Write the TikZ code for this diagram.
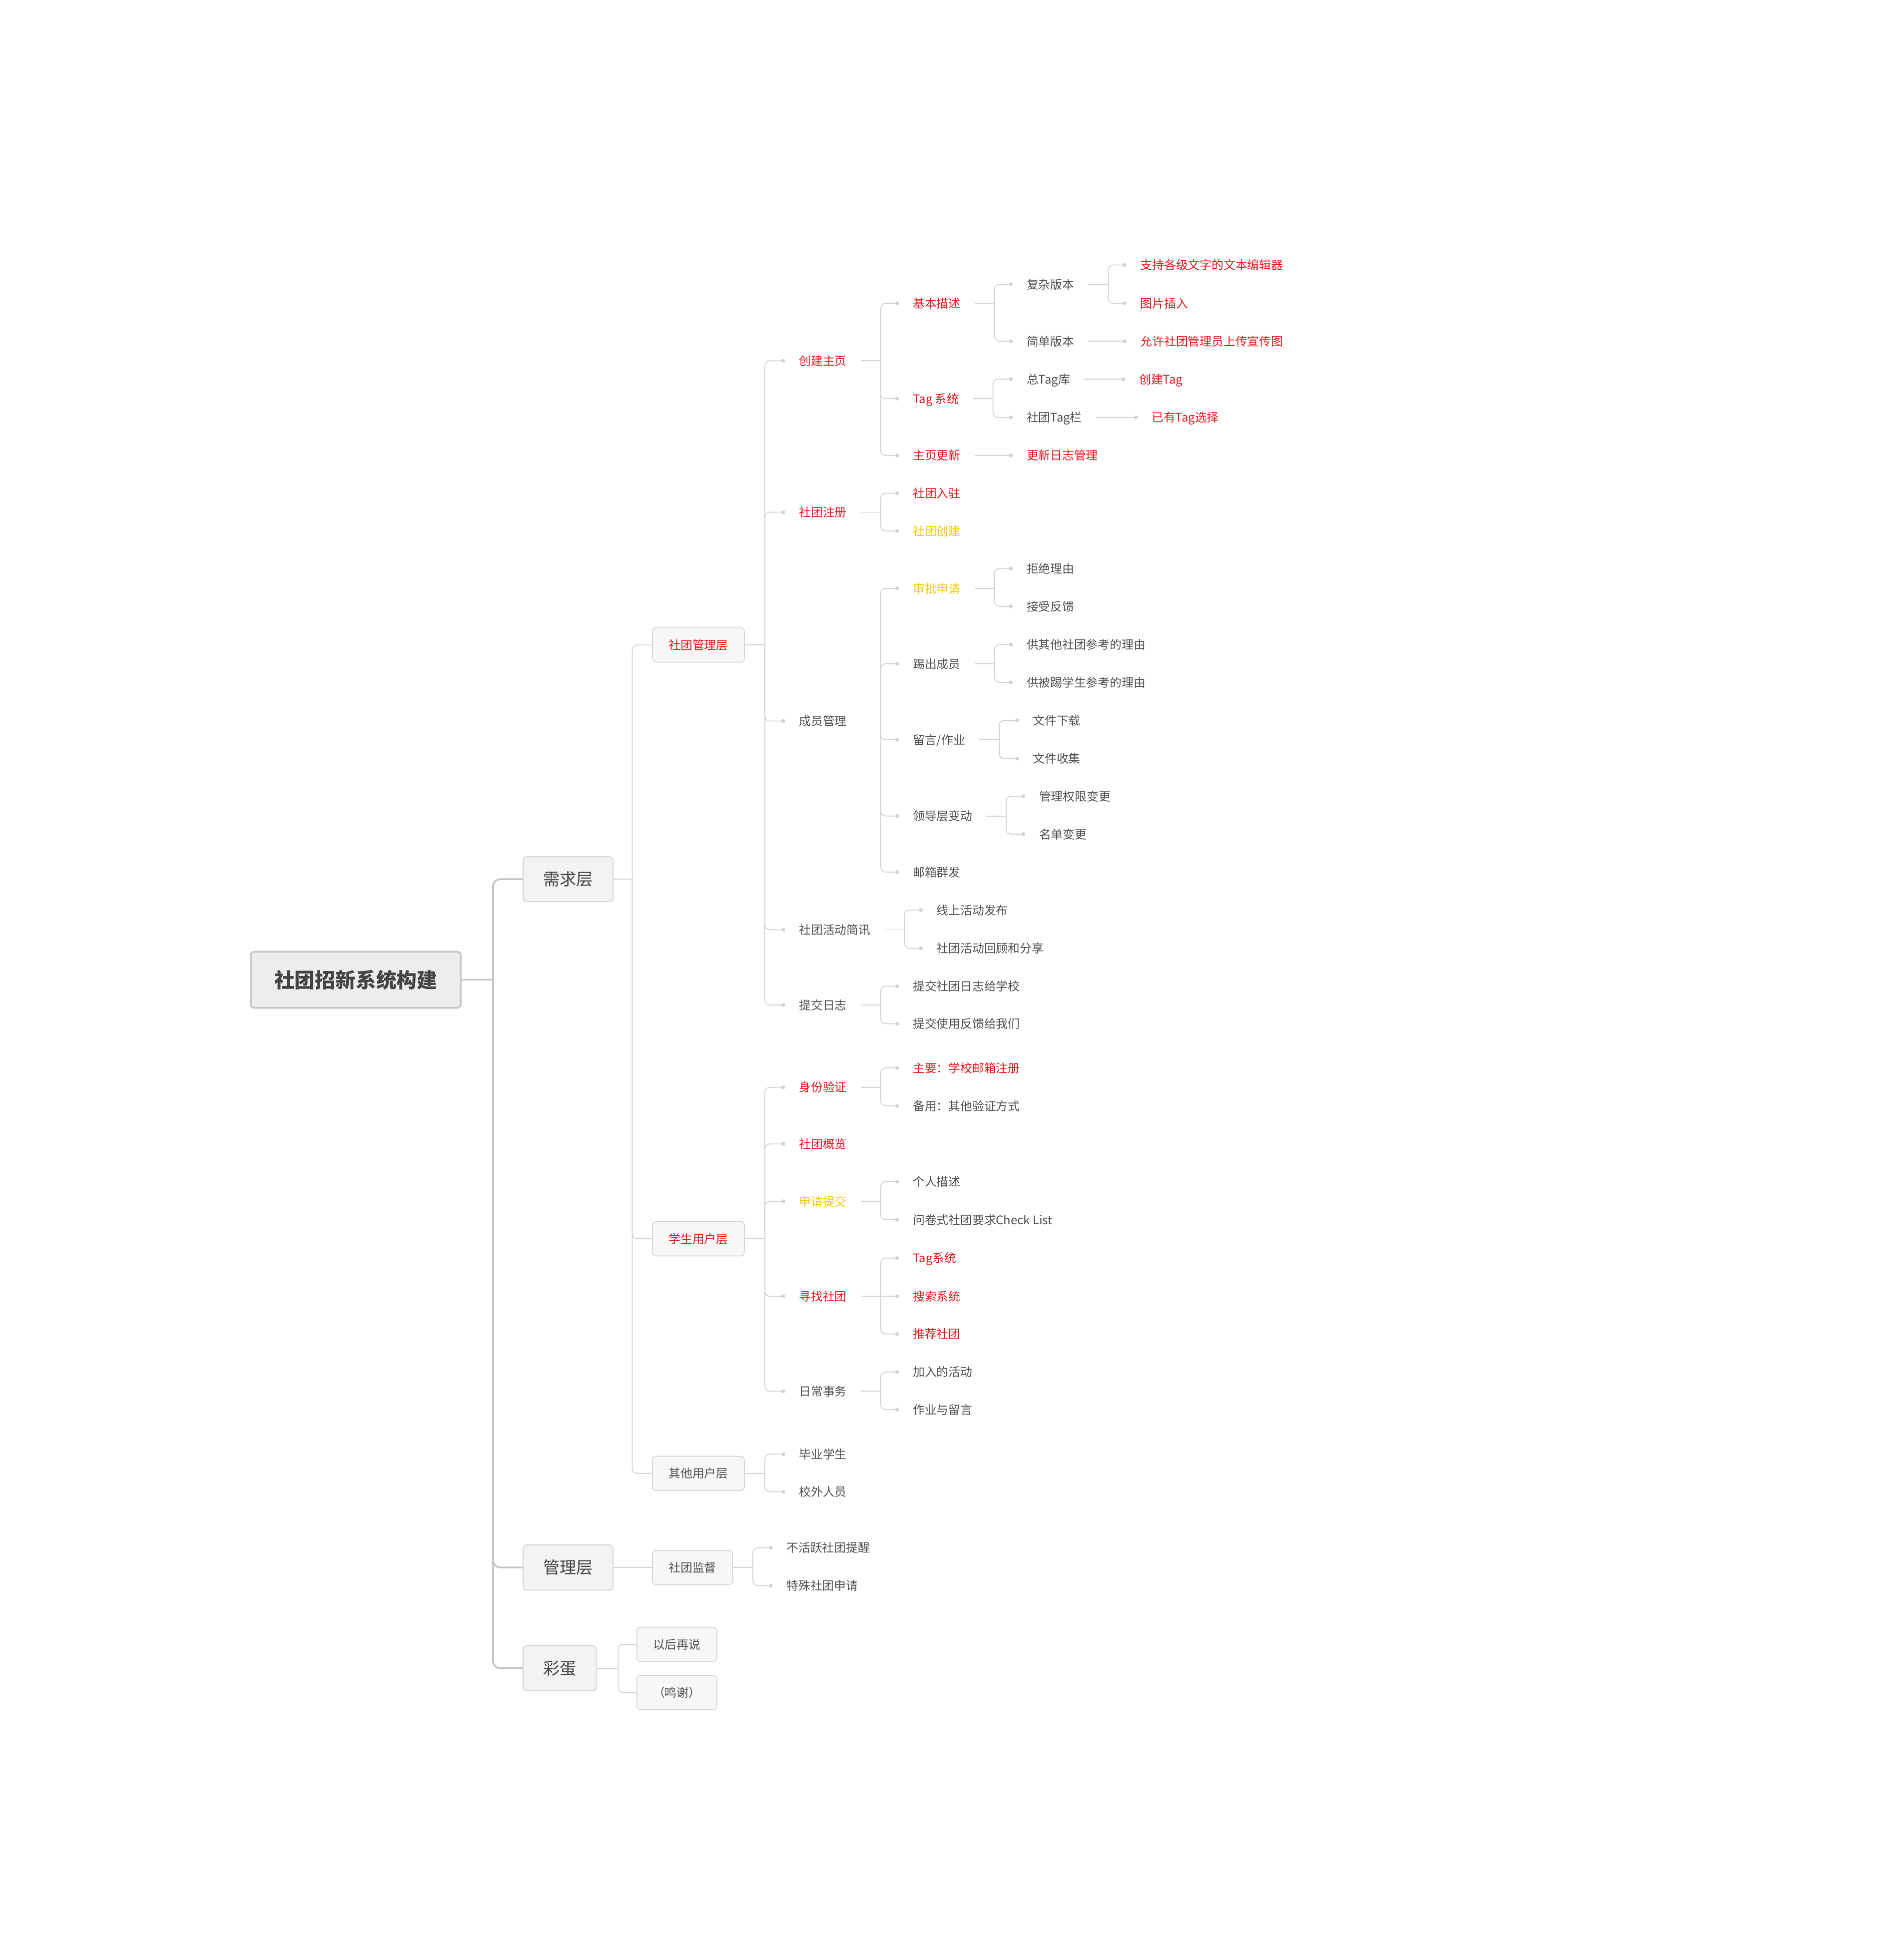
\documentclass[tikz,border=0pt]{standalone}
\usepackage{fontspec}
\setmainfont{Noto Sans CJK SC}
\usetikzlibrary{arrows.meta}
\definecolor{hotred}{HTML}{E8141B}
\definecolor{todoyellow}{HTML}{F5C800}
\definecolor{txtgray}{HTML}{4F4F4F}
\definecolor{txtdark}{HTML}{444444}
\definecolor{rootfill}{HTML}{EDEDED}
\definecolor{layerfill}{HTML}{F3F3F3}
\definecolor{groupfill}{HTML}{F7F7F7}
\definecolor{boxline}{HTML}{C8C8C8}
\definecolor{boxline2}{HTML}{D6D6D6}
\definecolor{connline}{HTML}{D2D2D2}
\definecolor{trunkline}{HTML}{C4C4C4}
\tikzset{
rootbox/.style={draw=boxline, line width=1.4pt, fill=rootfill, rounded corners=3pt, minimum width=168pt, minimum height=45pt, text height=14.3pt, text depth=1.9pt, font=\fontsize{16.3}{18}\selectfont\bfseries, text=txtdark},
layerbox/.style={draw=boxline2, line width=0.8pt, fill=layerfill, rounded corners=3pt, anchor=west, minimum height=36pt, inner xsep=16pt, text height=11.7pt, text depth=1.6pt, font=\fontsize{13.3}{15}\selectfont, text=txtdark},
groupbox/.style={draw=boxline2, line width=0.7pt, fill=groupfill, rounded corners=3pt, anchor=west, minimum height=27.5pt, inner xsep=13pt, text height=8.4pt, text depth=1.1pt, font=\fontsize{9.5}{11}\selectfont, text=txtgray},
leaf/.style={anchor=west, inner xsep=11pt, inner ysep=1pt, text height=8.4pt, text depth=1.1pt, font=\fontsize{9.5}{11}\selectfont, text=txtgray},
hot/.style={text=hotred},
todo/.style={text=todoyellow},
trunk/.style={draw=trunkline, line width=1.4pt, rounded corners=6pt},
conn/.style={draw=connline, line width=0.7pt, rounded corners=4pt},
dottip/.style={-{Circle[length=3pt]}}
}
\begin{document}
\begin{tikzpicture}[x=1pt,y=-1pt]
\useasboundingbox (0,0) rectangle (1517,1568);

\node[rootbox] (root) at (284.6,783.8) {社团招新系统构建};
\node[layerbox] (xq) at (418,703.3) {需求层};
\node[layerbox] (glc) at (418,1254) {管理层};
\node[layerbox] (cd) at (418,1334.6) {彩蛋};

\node[groupbox, hot] (stgl) at (521.5,516) {社团管理层};
\node[groupbox, hot] (xsyh) at (521.5,991) {学生用户层};
\node[groupbox] (qtyh) at (521.5,1178.7) {其他用户层};
\node[groupbox] (stjd) at (521.5,1254) {社团监督};
\node[groupbox] (yhzs) at (509,1315.5) {以后再说};
\node[groupbox] (mx) at (509,1354) {（鸣谢）};

% 社团管理层
\node[leaf, hot] (cjzy) at (628,288.6) {创建主页};
\node[leaf, hot] (stzc) at (628,409.8) {社团注册};
\node[leaf] (cygl) at (628,576.8) {成员管理};
\node[leaf] (sthd) at (628,743.8) {社团活动简讯};
\node[leaf] (tjrz) at (628,804) {提交日志};

\node[leaf, hot] (jbms) at (719,242.6) {基本描述};
\node[leaf, hot] (tagxt) at (719,318.9) {Tag 系统};
\node[leaf, hot] (zygx) at (719,364.3) {主页更新};
\node[leaf] (fzbb) at (810,227.4) {复杂版本};
\node[leaf] (jdbb) at (810,273) {简单版本};
\node[leaf, hot] (bjq) at (901,212) {支持各级文字的文本编辑器};
\node[leaf, hot] (tpcr) at (901,242.6) {图片插入};
\node[leaf, hot] (yxsc) at (901,273) {允许社团管理员上传宣传图};
\node[leaf] (ztag) at (810,303.3) {总Tag库};
\node[leaf] (sttag) at (810,334) {社团Tag栏};
\node[leaf, hot] (cjtag) at (900,303.3) {创建Tag};
\node[leaf, hot] (yytag) at (910,334) {已有Tag选择};
\node[leaf, hot] (gxrz) at (810,364.3) {更新日志管理};

\node[leaf, hot] (strz) at (719,394.6) {社团入驻};
\node[leaf, todo] (stcj) at (719,424.8) {社团创建};

\node[leaf, todo] (spsq) at (719,470.7) {审批申请};
\node[leaf] (tccy) at (719,531) {踢出成员};
\node[leaf] (lyzy) at (719,591.8) {留言/作业};
\node[leaf] (ldbd) at (719,652.8) {领导层变动};
\node[leaf] (yxqf) at (719,697.7) {邮箱群发};
\node[leaf] (jjly) at (810,454.9) {拒绝理由};
\node[leaf] (jsfk) at (810,485.1) {接受反馈};
\node[leaf] (qtly) at (810,515.7) {供其他社团参考的理由};
\node[leaf] (btly) at (810,545.9) {供被踢学生参考的理由};
\node[leaf] (wjxz) at (815,576.2) {文件下载};
\node[leaf] (wjsj) at (815,606.9) {文件收集};
\node[leaf] (qxbg) at (820,637.1) {管理权限变更};
\node[leaf] (mdbg) at (820,667.3) {名单变更};

\node[leaf] (xshd) at (738,728) {线上活动发布};
\node[leaf] (hgfx) at (738,758.7) {社团活动回顾和分享};
\node[leaf] (rzxx) at (719,789) {提交社团日志给学校};
\node[leaf] (fkwm) at (719,819) {提交使用反馈给我们};

% 学生用户层
\node[leaf, hot] (sfyz) at (628,869.8) {身份验证};
\node[leaf, hot] (stgk) at (628,915.2) {社团概览};
\node[leaf, todo] (sqtj) at (628,961) {申请提交};
\node[leaf, hot] (xzst) at (628,1037) {寻找社团};
\node[leaf] (rcsw) at (628,1113) {日常事务};
\node[leaf, hot] (yxzc) at (719,854.3) {主要：学校邮箱注册};
\node[leaf] (qtyz) at (719,884.7) {备用：其他验证方式};
\node[leaf] (grms) at (719,945.3) {个人描述};
\node[leaf] (wjsq) at (719,975.8) {问卷式社团要求Check List};
\node[leaf, hot] (tagxt2) at (719,1006.5) {Tag系统};
\node[leaf, hot] (ssxt) at (719,1037) {搜索系统};
\node[leaf, hot] (tjst) at (719,1067.2) {推荐社团};
\node[leaf] (jrhd) at (719,1097.6) {加入的活动};
\node[leaf] (zyly) at (719,1127.7) {作业与留言};

\node[leaf] (bysx) at (628,1163.3) {毕业学生};
\node[leaf] (xwry) at (628,1193.4) {校外人员};
\node[leaf] (bhy) at (618,1238.2) {不活跃社团提醒};
\node[leaf] (tssq) at (618,1268.5) {特殊社团申请};

\draw[trunk] (root.east) -- ++(25,0) coordinate (root-b);
\foreach \c in {xq,glc,cd} \draw[trunk] (root-b) |- (\c.west);
\draw[conn] (xq.east) -- ++(15,0) coordinate (xq-b);
\foreach \c in {stgl,xsyh,qtyh} \draw[conn] (xq-b) |- (\c.west);
\draw[conn] (glc.east) -- (stjd.west);
\draw[conn] (cd.east) -- ++(17,0) coordinate (cd-b);
\foreach \c in {yhzs,mx} \draw[conn] (cd-b) |- (\c.west);

\foreach \p/\kids in {stgl/{cjzy,stzc,cygl,sthd,tjrz}, cjzy/{jbms,tagxt,zygx},
  jbms/{fzbb,jdbb}, fzbb/{bjq,tpcr}, tagxt/{ztag,sttag}, stzc/{strz,stcj},
  cygl/{spsq,tccy,lyzy,ldbd,yxqf}, spsq/{jjly,jsfk}, tccy/{qtly,btly},
  lyzy/{wjxz,wjsj}, ldbd/{qxbg,mdbg}, sthd/{xshd,hgfx}, tjrz/{rzxx,fkwm},
  xsyh/{sfyz,stgk,sqtj,xzst,rcsw}, sfyz/{yxzc,qtyz}, sqtj/{grms,wjsq},
  xzst/{tagxt2,tjst}, rcsw/{jrhd,zyly}, qtyh/{bysx,xwry}, stjd/{bhy,tssq}}
{
  \draw[conn] (\p.east) -- ++(16,0) coordinate (\p-b);
  \foreach \c in \kids \draw[conn,dottip] (\p-b) |- (\c.west);
}
\draw[conn,dottip] (xzst-b) -- (ssxt.west);
\foreach \p/\c in {jdbb/yxsc, ztag/cjtag, sttag/yytag, zygx/gxrz}
  \draw[conn,dottip] (\p.east) -- (\c.west);
\end{tikzpicture}
\end{document}
